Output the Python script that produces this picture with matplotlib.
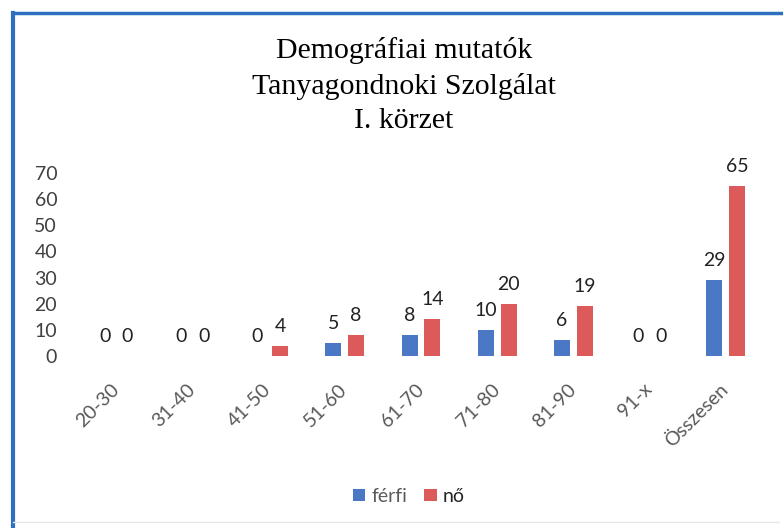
import matplotlib.pyplot as plt
import numpy as np
from matplotlib.lines import Line2D

# age groups and counts
categories = ['20-30', '31-40', '41-50', '51-60', '61-70', '71-80', '81-90', '91-x', 'Összesen']
ferfi = [0, 0, 0, 5, 8, 10, 6, 0, 29]
no = [0, 0, 4, 8, 14, 20, 19, 0, 65]
yticks = [0, 10, 20, 30, 40, 50, 60, 70]

blue = '#4A78C4'
red = '#DC5A5A'

fig = plt.figure(figsize=(7.83, 5.28), dpi=100)
ax = fig.add_axes([0.0996, 0.3258, 0.876, 0.3466])

x = np.arange(len(categories))
w = 0.21
off = 0.15
b1 = ax.bar(x - off, ferfi, w, color=blue, label='férfi')
b2 = ax.bar(x + off, no, w, color=red, label='nő')

# data labels above each bar
for bars, vals in ((b1, ferfi), (b2, no)):
    for rect, v in zip(bars, vals):
        ax.annotate(str(v), (rect.get_x() + rect.get_width() / 2, v),
                    xytext=(0, 14), textcoords='offset points',
                    ha='center', va='center', fontsize=14,
                    family='Lato', color='#222222')

ax.set_xlim(-0.5, len(categories) - 0.5)
ax.set_ylim(0, 70)
ax.set_yticks(yticks)
ax.set_xticks(x)
ax.set_xticklabels(categories, rotation=45, ha='right', va='center',
                   rotation_mode='anchor', family='Lato', fontsize=14,
                   color='#595959')
for lab in ax.get_yticklabels():
    lab.set_family('Lato')
    lab.set_fontsize(14)
    lab.set_color('#404040')
ax.tick_params(axis='y', length=0, pad=15)
ax.tick_params(axis='x', length=0, pad=22)
for s in ax.spines.values():
    s.set_visible(False)

fig.suptitle('Demográfiai mutatók\nTanyagondnoki Szolgálat\nI. körzet',
             family='Liberation Serif', fontsize=21.5, y=0.93, va='top',
             linespacing=1.42, x=0.516)

fig.legend(handles=[b1, b2], labels=['férfi', 'nő'], loc='center',
           bbox_to_anchor=(0.522, 0.06), ncol=2, frameon=False,
           handlelength=0.65, handleheight=0.65, handletextpad=0.3,
           columnspacing=0.9, prop={'family': 'Lato', 'size': 14},
           labelcolor=['#595959', '#222222'])

# blue frame on the left and top of the scanned chart
fig.add_artist(Line2D([0.017, 0.017], [0.0, 0.975], color='#2E70C0', lw=3,
                      transform=fig.transFigure))
fig.add_artist(Line2D([0.017, 1.0], [0.975, 0.975], color='#2E70C0', lw=2.5,
                      transform=fig.transFigure))
fig.add_artist(Line2D([0.017, 0.995], [0.012, 0.012], color='#E6E6E6', lw=1,
                      transform=fig.transFigure))

fig.savefig('out.png', dpi=100)
